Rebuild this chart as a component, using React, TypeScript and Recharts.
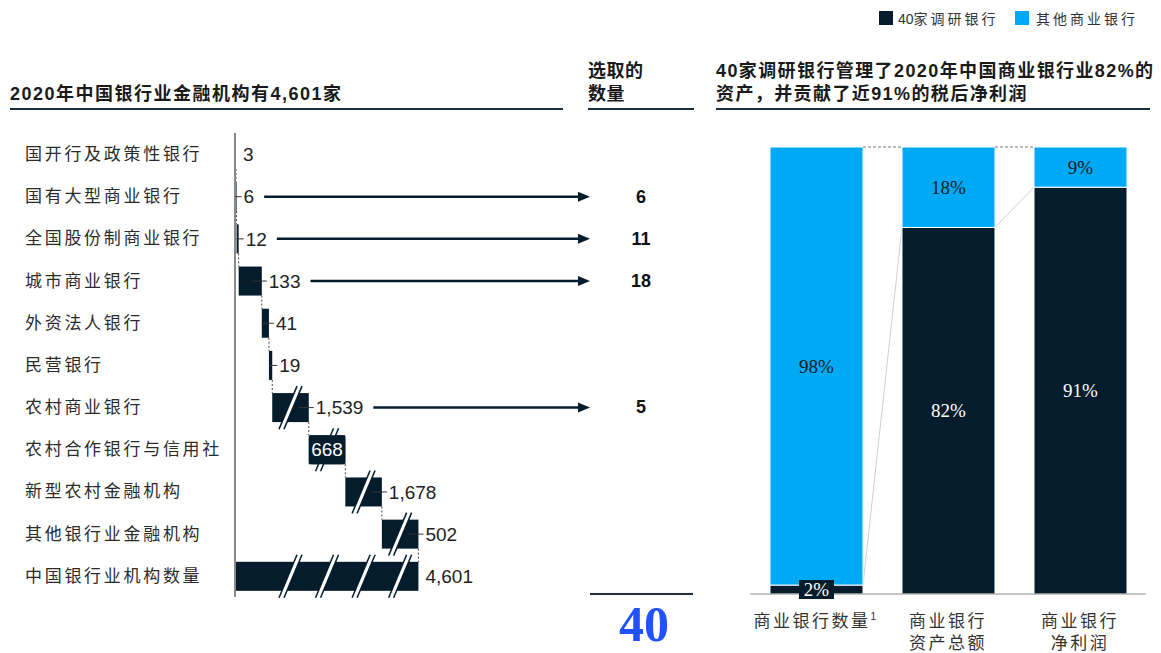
import React from 'react';
import { BarChart, Bar, XAxis, YAxis, LabelList } from 'recharts';

// 左图：银行业金融机构数量（瀑布）
const categories = [
  '国开行及政策性银行',
  '国有大型商业银行',
  '全国股份制商业银行',
  '城市商业银行',
  '外资法人银行',
  '民营银行',
  '农村商业银行',
  '农村合作银行与信用社',
  '新型农村金融机构',
  '其他银行业金融机构',
  '中国银行业机构数量',
];
const counts = [3, 6, 12, 133, 41, 19, 1539, 668, 1678, 502, 4601];
const selected = [null, 6, 11, 18, null, null, 5, null, null, null, null];
const selectedTotal = 40;

// 右图：40家调研银行占比
const shareLabels = [['商业银行数量'], ['商业银行', '资产总额'], ['商业银行', '净利润']];
const surveyed = [2, 82, 91];
const others = [98, 18, 9];
const seriesNames = ['40家调研银行', '其他商业银行'];

const DARK = '#051C2C';
const BLUE = '#00A9F4';
const LINE = '#1d2d3d';
const CJK = '"Liberation Sans", "Noto Sans CJK SC", sans-serif';
const SERIF = '"Liberation Serif", "DejaVu Serif", serif';

// bars above the cap are drawn with an axis break
const CAP = 210;
const DOMAIN = 2040;
const ROW = 464 / categories.length;
const ARROW_END = 590;
const PICK_X = 641;

let run = 0;
const waterfall = categories.map((name, i) => {
  const isTotal = i === categories.length - 1;
  const shown = isTotal ? run : Math.min(counts[i], CAP);
  const base = isTotal ? 0 : run;
  if (!isTotal) run += shown;
  return { name, value: counts[i], pick: selected[i], base, shown, broken: !isTotal && counts[i] > CAP, isTotal };
});
const totalShown = run;
const breakUnits = waterfall.filter((r) => r.broken).map((r) => r.base + r.shown / 2);

const fmt = (v: number) => v.toLocaleString('en-US');
const textWidth = (s: string, size: number) =>
  s.split('').reduce((w, c) => w + (c === ',' ? 0.278 : 0.556) * size, 0);

function breakMark(cx: number, top: number, bottom: number, key: string) {
  const s = 9;
  const g = 5;
  const a = cx - g / 2;
  const b = cx + g / 2;
  return (
    <g key={key}>
      <polygon points={`${a - s},${bottom} ${a + s},${top} ${b + s},${top} ${b - s},${bottom}`} fill="#fff" />
      <line x1={a - s} y1={bottom} x2={a + s} y2={top} stroke={DARK} strokeWidth={1.5} />
      <line x1={b - s} y1={bottom} x2={b + s} y2={top} stroke={DARK} strokeWidth={1.5} />
    </g>
  );
}

function StepBar(props: any) {
  const { x, y, width, height, payload } = props;
  const w = Math.max(width, 1);
  const parts: React.ReactNode[] = [];
  parts.push(<rect key="r" x={x} y={y} width={w} height={height} fill={DARK} />);
  if (payload.broken) parts.push(breakMark(x + w / 2, y - 7, y + height + 7, 'b'));
  if (payload.isTotal) {
    breakUnits.forEach((u, i) => parts.push(breakMark(x + (width * u) / totalShown, y - 7, y + height + 7, 'b' + i)));
  } else {
    parts.push(
      <line key="c" x1={x + w} y1={y + height} x2={x + w} y2={y + ROW} stroke="#444" strokeWidth={1} strokeDasharray="2 2" />
    );
  }
  return <g>{parts}</g>;
}

function CountLabel(props: any) {
  const { x, y, width, height, value } = props;
  const row = waterfall.find((r) => r.value === value);
  if (!row) return null;
  const end = x + Math.max(width, 1);
  const cy = y + height / 2;
  const txt = fmt(row.value);
  if (row.name === '农村合作银行与信用社') {
    return (
      <g>
        <rect x={x} y={y} width={width} height={height} rx={3} fill={DARK} />
        <text x={x + width / 2} y={cy} dy="0.35em" textAnchor="middle" fill="#fff" fontSize={19} fontFamily={CJK}>
          {txt}
        </text>
      </g>
    );
  }
  const tx = end + 7;
  const tEnd = tx + textWidth(txt, 19);
  return (
    <g>
      {!row.isTotal && row.value > 3 && (
        <line x1={Math.max(end - 10, x)} y1={cy} x2={end + 5} y2={cy} stroke="#333" strokeWidth={1} />
      )}
      <text x={tx} y={cy} dy="0.35em" fill="#222" fontSize={19} fontFamily={CJK}>
        {txt}
      </text>
      {row.pick != null && (
        <g>
          <line x1={tEnd + 10} y1={cy} x2={ARROW_END - 8} y2={cy} stroke={DARK} strokeWidth={2.5} />
          <polygon points={`${ARROW_END - 12},${cy - 5} ${ARROW_END},${cy} ${ARROW_END - 12},${cy + 5}`} fill={DARK} />
        </g>
      )}
    </g>
  );
}

function CategoryTick(props: any) {
  const { y, payload } = props;
  return (
    <text x={25} y={y} dy="0.35em" fill="#2b2b2b" fontSize={17} letterSpacing={2.7} fontFamily={CJK}>
      {payload.value}
    </text>
  );
}

function PickTick(props: any) {
  const { y, payload } = props;
  const row = waterfall.find((r) => r.name === payload.value);
  if (!row || row.pick == null) return null;
  return (
    <text x={PICK_X} y={y} dy="0.35em" textAnchor="middle" fill="#111" fontSize={18} fontWeight="bold" fontFamily={CJK}>
      {row.pick}
    </text>
  );
}

// 右图
const R_BAND = 132;
const R_PLOT_H = 447;
const shareData = shareLabels.map((lines, i) => ({ name: i, surveyed: surveyed[i], others: others[i] }));

function SurveyedShape(props: any) {
  const { x, y, width, height, payload } = props;
  const i = payload.name;
  const baseline = y + height;
  return (
    <g>
      <rect x={x} y={y} width={width} height={height} fill={DARK} stroke="#fff" strokeWidth={1} />
      {i < surveyed.length - 1 && (
        <line
          x1={x + width}
          y1={y}
          x2={x + R_BAND}
          y2={baseline - (surveyed[i + 1] / 100) * R_PLOT_H}
          stroke="#cfcfcf"
          strokeWidth={1}
        />
      )}
    </g>
  );
}

function OthersShape(props: any) {
  const { x, y, width, height, payload } = props;
  const i = payload.name;
  return (
    <g>
      <rect x={x} y={y} width={width} height={height} fill={BLUE} stroke="#fff" strokeWidth={1} />
      {i < others.length - 1 && (
        <line x1={x + width} y1={y} x2={x + R_BAND} y2={y} stroke="#777" strokeWidth={1} strokeDasharray="3 2" />
      )}
    </g>
  );
}

function pctLabel(color: string, boxed: boolean) {
  return (props: any) => {
    const { x, y, width, height, value } = props;
    const cx = x + width / 2;
    const cy = y + height / 2;
    return (
      <g>
        {boxed && height < 20 && <rect x={cx - 17.5} y={cy - 9.5} width={35} height={19} fill={DARK} />}
        <text x={cx} y={cy} dy="0.35em" textAnchor="middle" fill={color} fontSize={19} fontFamily={SERIF}>
          {value}%
        </text>
      </g>
    );
  };
}

function ShareTick(props: any) {
  const { x, payload } = props;
  const lines = shareLabels[payload.value];
  return (
    <text x={x} y={626} textAnchor="middle" fill="#333" fontSize={17} letterSpacing={2.5} fontFamily={CJK}>
      {lines.map((l, k) => (
        <tspan key={k} x={x} y={k === 0 ? 627 : 649}>
          {l}
          {payload.value === 0 && k === 0 && (
            <tspan fontSize={10} dy={-7}>
              1
            </tspan>
          )}
        </tspan>
      ))}
    </text>
  );
}

// legend text: digits stay tight, CJK characters spaced
function legendText(s: string) {
  const m = s.match(/^(\d*)(.*)$/) || ['', '', s];
  return (
    <>
      {m[1] && <tspan letterSpacing={0}>{m[1]}</tspan>}
      <tspan letterSpacing={3}>{m[2]}</tspan>
    </>
  );
}

export default function App() {
  return (
    <div style={{ position: 'absolute', left: 0, top: 0, width: 1161, height: 653, background: '#fff', overflow: 'hidden' }}>
      <svg width={1161} height={653} style={{ position: 'absolute', left: 0, top: 0 }}>
        <text x={10} y={100} fontSize={18} fontWeight="bold" letterSpacing={1.5} fill="#1a1a1a" fontFamily={CJK}>
          2020年中国银行业金融机构有4,601家
        </text>
        <line x1={10} y1={109} x2={563} y2={109} stroke={LINE} strokeWidth={2} />
        <text x={588} y={77} fontSize={18} fontWeight="bold" letterSpacing={0.5} fill="#1a1a1a" fontFamily={CJK}>
          选取的
        </text>
        <text x={588} y={100} fontSize={18} fontWeight="bold" letterSpacing={0.5} fill="#1a1a1a" fontFamily={CJK}>
          数量
        </text>
        <line x1={588} y1={109} x2={694} y2={109} stroke={LINE} strokeWidth={2} />
        <text x={716} y={77} fontSize={18} fontWeight="bold" letterSpacing={1.4} fill="#1a1a1a" fontFamily={CJK}>
          40家调研银行管理了2020年中国商业银行业82%的
        </text>
        <text x={716} y={100} fontSize={18} fontWeight="bold" letterSpacing={1.4} fill="#1a1a1a" fontFamily={CJK}>
          资产，并贡献了近91%的税后净利润
        </text>
        <line x1={716} y1={109} x2={1150} y2={109} stroke={LINE} strokeWidth={2} />
        <line x1={590} y1={594} x2={693} y2={594} stroke={LINE} strokeWidth={2} />
        <text x={644} y={641} textAnchor="middle" fontSize={50} fontWeight="bold" fill="#2251FF" fontFamily={SERIF}>
          {selectedTotal}
        </text>
        <rect x={879} y={11} width={14} height={14} fill={DARK} />
        <text x={898} y={24} fontSize={14} fill="#333" fontFamily={CJK}>
          {legendText(seriesNames[0])}
        </text>
        <rect x={1015} y={11} width={14} height={14} fill={BLUE} />
        <text x={1036} y={24} fontSize={14} fill="#333" fontFamily={CJK}>
          {legendText(seriesNames[1])}
        </text>
      </svg>

      <div style={{ position: 'absolute', left: 0, top: 125 }}>
        <BarChart
          width={700}
          height={480}
          data={waterfall}
          layout="vertical"
          margin={{ top: 8, right: 0, bottom: 8, left: 0 }}
          barSize={29}
        >
          <XAxis type="number" domain={[0, DOMAIN]} hide allowDataOverflow />
          <YAxis
            yAxisId="cat"
            type="category"
            dataKey="name"
            width={235}
            tickLine={false}
            axisLine={{ stroke: '#8a8a8a', strokeWidth: 2 }}
            tick={CategoryTick}
            interval={0}
          />
          <YAxis
            yAxisId="pick"
            orientation="right"
            type="category"
            dataKey="name"
            width={110}
            tickLine={false}
            axisLine={false}
            tick={PickTick}
            interval={0}
          />
          <Bar yAxisId="cat" dataKey="base" stackId="w" fill="transparent" isAnimationActive={false} />
          <Bar yAxisId="cat" dataKey="shown" stackId="w" fill={DARK} shape={StepBar} isAnimationActive={false}>
            <LabelList dataKey="value" content={CountLabel} />
          </Bar>
        </BarChart>
      </div>

      <div style={{ position: 'absolute', left: 750, top: 0 }}>
        <BarChart
          width={396}
          height={653}
          data={shareData}
          margin={{ top: 147, right: 0, bottom: 0, left: 0 }}
          barSize={93}
        >
          <XAxis dataKey="name" axisLine={{ stroke: '#8a8a8a' }} tickLine={false} height={59} tick={ShareTick} interval={0} />
          <YAxis hide domain={[0, 100]} />
          <Bar dataKey="surveyed" stackId="s" fill={DARK} shape={SurveyedShape} isAnimationActive={false}>
            <LabelList dataKey="surveyed" content={pctLabel('#fff', true)} />
          </Bar>
          <Bar dataKey="others" stackId="s" fill={BLUE} shape={OthersShape} isAnimationActive={false}>
            <LabelList dataKey="others" content={pctLabel('#1a1a1a', false)} />
          </Bar>
        </BarChart>
      </div>
    </div>
  );
}
